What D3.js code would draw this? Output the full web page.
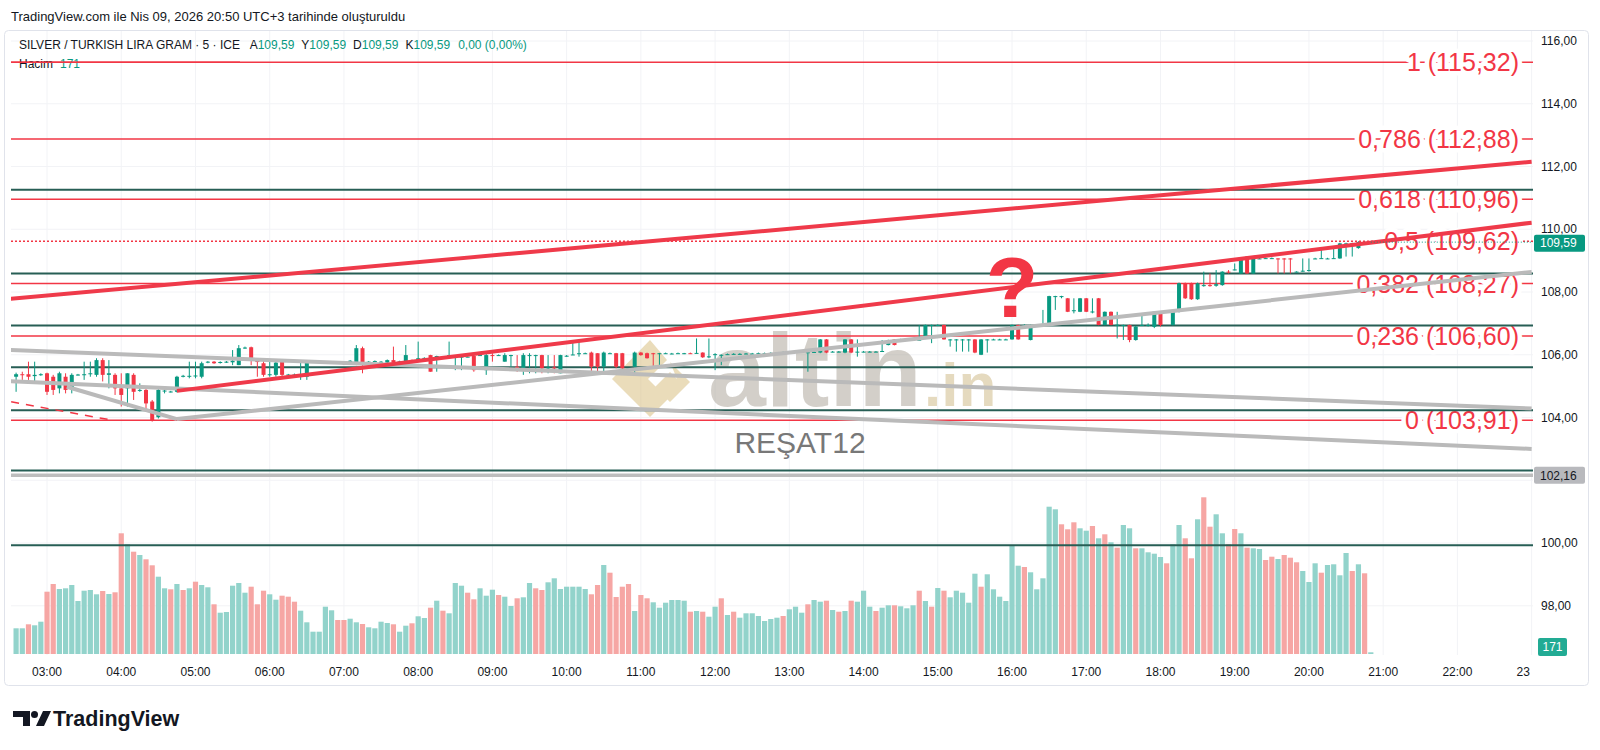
<!DOCTYPE html>
<meta charset="utf-8">
<style>
  body { margin: 0; background: #fff; }
  svg { display: block; font-family: "Liberation Sans", Arial, sans-serif; }
</style>
<body>
<svg width="1600" height="750"></svg>
<script src="https://d3js.org/d3.v7.min.js"></script>
<script>
// 5 minute bars, 02:35 -> 20:50, [open, high, low, close]
const candles = [
  [105.30,105.43,104.82,105.38],[105.38,105.46,105.20,105.36],[105.38,105.78,105.20,105.30],[105.32,105.78,105.09,105.36],[105.38,105.41,105.33,105.38],
  [105.41,105.43,104.72,104.82],[105.30,105.36,104.72,104.88],[104.93,105.46,104.77,105.41],[105.30,105.41,104.77,104.88],[104.93,105.41,104.77,105.36],
  [105.36,105.39,105.34,105.37],[105.37,105.78,105.20,105.38],[105.38,105.78,105.30,105.41],[105.36,105.89,105.30,105.83],[105.83,105.89,105.15,105.36],
  [105.36,105.83,104.93,105.41],[105.36,105.41,104.72,104.93],[104.93,105.41,104.35,104.72],[104.93,105.41,104.35,105.41],[105.36,105.41,104.56,104.82],
  [104.85,105.09,104.82,104.88],[104.88,104.93,104.19,104.45],[104.51,104.56,103.87,103.92],[104.01,104.93,103.97,104.88],[104.84,104.93,104.77,104.86],
  [104.82,104.85,104.80,104.83],[104.82,105.33,104.80,105.30],[105.30,105.36,105.28,105.33],[105.33,105.78,105.25,105.33],[105.33,105.78,105.25,105.34],
  [105.30,105.78,105.25,105.73],[105.75,105.80,105.73,105.78],[105.78,105.80,105.71,105.73],[105.74,105.79,105.72,105.77],[105.76,105.80,105.74,105.78],
  [105.76,106.15,105.67,105.81],[105.67,106.31,105.67,106.21],[106.21,106.26,106.19,106.23],[106.24,106.26,105.67,105.83],[105.80,105.80,105.30,105.78],
  [105.73,105.83,105.30,105.36],[105.36,105.78,105.30,105.38],[105.36,105.78,105.30,105.75],[105.78,105.78,105.30,105.36],[105.36,105.39,105.34,105.37],
  [105.37,105.40,105.35,105.37],[105.30,105.78,105.20,105.36],[105.30,105.83,105.20,105.78],[105.78,105.80,105.76,105.78],[105.78,105.80,105.76,105.79],
  [105.78,105.80,105.76,105.78],[105.78,105.80,105.76,105.77],[105.74,105.76,105.71,105.73],[105.76,105.78,105.68,105.70],[105.76,105.83,105.75,105.81],
  [105.73,106.31,105.67,106.21],[106.21,106.26,105.41,105.67],[105.78,105.80,105.76,105.78],[105.80,105.82,105.78,105.80],[105.78,105.80,105.76,105.78],
  [105.75,105.85,105.73,105.83],[105.83,106.26,105.73,105.76],[105.78,105.81,105.76,105.79],[105.75,106.31,105.73,105.99],[105.83,105.85,105.73,105.75],
  [105.83,106.42,105.83,105.89],[105.89,105.92,105.87,105.90],[105.99,106.00,105.46,105.46],[105.85,105.97,105.46,105.96],[105.95,105.96,105.92,105.94],
  [105.99,106.42,105.98,105.99],[105.94,105.95,105.51,105.94],[105.94,105.95,105.51,105.94],[105.94,105.95,105.92,105.94],[105.96,106.05,105.46,105.51],
  [105.98,106.01,105.97,105.99],[105.51,106.05,105.36,105.99],[105.99,106.05,105.78,105.98],[105.99,106.01,105.97,105.99],[105.78,106.05,105.78,105.99],
  [105.99,106.00,105.62,105.99],[105.62,105.99,105.46,105.51],[105.51,106.05,105.36,105.99],[105.99,106.05,105.41,105.99],[105.99,106.00,105.41,105.99],
  [105.99,106.00,105.41,105.57],[105.57,105.99,105.41,105.60],[105.60,105.99,105.41,105.58],[105.41,106.00,105.41,105.99],[105.96,105.99,105.94,105.97],
  [106.01,106.47,105.99,106.01],[106.05,106.47,105.94,106.05],[106.05,106.07,106.03,106.05],[106.07,106.10,105.36,105.62],[106.05,106.05,105.41,105.62],
  [105.62,106.10,105.41,106.07],[106.05,106.07,106.03,106.05],[106.05,106.06,105.57,105.62],[106.05,106.06,105.55,105.57],[105.57,105.58,105.36,105.57],
  [105.62,106.10,105.36,106.07],[106.07,106.09,105.97,105.99],[106.05,106.07,105.88,105.89],[106.05,106.06,105.62,106.04],[106.05,106.06,105.67,106.05],
  [106.05,106.07,106.03,106.05],[106.04,106.06,106.02,106.04],[106.05,106.07,106.03,106.05],[106.04,106.06,106.02,106.05],[106.05,106.07,106.03,106.04],
  [106.05,106.52,106.04,106.06],[106.07,106.08,105.90,105.92],[105.92,106.52,105.89,105.95],[105.99,106.05,105.51,106.02],[106.00,106.01,105.67,106.00],
  [106.02,106.04,106.00,106.02],[106.03,106.05,106.01,106.03],[106.03,106.05,106.01,106.03],[106.04,106.06,106.02,106.04],[106.04,106.06,106.02,106.04],
  [106.05,106.07,106.03,106.05],[106.05,106.07,106.03,106.05],[106.06,106.08,106.04,106.06],[106.06,106.08,106.04,106.06],[106.08,106.10,106.06,106.08],
  [106.08,106.10,106.06,106.08],[106.09,106.11,106.07,106.09],[106.10,106.12,106.08,106.10],[106.08,106.10,105.46,106.08],[106.09,106.11,106.07,106.09],
  [106.07,106.50,106.05,106.49],[106.49,106.50,106.05,106.07],[106.10,106.12,106.08,106.10],[106.10,106.12,106.08,106.10],[106.07,106.50,106.05,106.49],
  [106.49,106.50,106.05,106.07],[106.10,106.49,105.94,106.10],[106.10,106.12,106.08,106.10],[106.10,106.12,106.08,106.10],[106.10,106.12,106.08,106.10],
  [106.10,106.47,106.09,106.12],[106.31,106.48,106.30,106.47],[106.49,106.50,106.30,106.31],[106.49,106.51,106.47,106.49],[106.49,106.51,106.47,106.49],
  [106.49,106.51,106.47,106.49],[106.47,106.95,106.46,106.48],[106.52,106.96,106.50,106.95],[106.95,106.96,106.37,106.95],[106.95,106.97,106.93,106.95],
  [106.95,106.96,106.48,106.49],[106.49,106.50,106.26,106.49],[106.49,106.50,106.10,106.49],[106.49,106.50,106.10,106.49],[106.49,106.50,106.10,106.49],
  [106.49,106.50,106.05,106.07],[106.00,106.50,105.99,106.49],[106.49,106.50,106.07,106.49],[106.49,106.51,106.47,106.49],[106.49,106.51,106.47,106.49],
  [106.49,106.51,106.47,106.49],[106.49,106.96,106.48,106.95],[106.95,106.96,106.48,106.49],[106.95,106.97,106.93,106.95],[106.47,106.96,106.46,106.95],
  [106.95,106.97,106.93,106.95],[106.95,107.43,106.94,106.96],[106.95,107.88,106.94,107.87],[107.87,107.88,107.43,107.87],[107.87,107.88,107.80,107.87],
  [107.80,107.81,107.36,107.37],[107.40,107.80,107.32,107.42],[107.37,107.81,107.36,107.80],[107.80,107.81,107.36,107.37],[107.38,107.80,107.32,107.38],
  [107.80,107.81,106.94,106.95],[106.95,107.38,106.94,107.37],[107.37,107.38,106.94,106.95],[106.95,107.37,106.52,106.96],[106.95,106.96,106.47,106.95],
  [106.95,106.96,106.40,106.47],[106.47,106.92,106.45,106.90],[106.95,107.32,106.94,106.95],[106.95,107.00,106.90,106.95],[106.89,107.38,106.85,107.37],
  [107.37,107.38,106.90,106.95],[107.37,107.39,107.35,107.37],[106.95,107.38,106.93,107.37],[107.37,108.30,107.35,108.28],[108.28,108.30,107.78,107.80],
  [108.28,108.30,107.75,107.77],[107.77,108.30,107.75,108.28],[108.20,108.65,108.17,108.22],[108.22,108.59,108.17,108.21],[108.20,108.70,108.17,108.25],
  [108.22,108.66,108.20,108.65],[108.65,108.70,108.59,108.64],[108.70,108.91,108.69,108.72],[108.59,109.08,108.58,109.07],[109.13,109.14,108.58,108.59],
  [108.59,109.14,108.58,109.13],[109.07,109.09,109.05,109.07],[109.08,109.10,109.06,109.08],[109.08,109.10,109.06,109.08],[109.07,109.08,108.59,109.06],
  [109.07,109.08,108.59,109.06],[109.07,109.08,108.59,109.06],[108.65,108.66,108.63,108.65],[108.66,109.07,108.65,108.68],[108.70,109.07,108.65,108.70],
  [109.07,109.09,109.05,109.07],[109.07,109.39,109.06,109.08],[109.07,109.09,109.05,109.07],[109.08,109.39,109.06,109.08],[109.07,109.57,109.06,109.55],
  [109.55,109.57,109.13,109.55],[109.56,109.57,109.13,109.56],[109.40,109.62,109.38,109.59],[109.59,109.61,109.57,109.59],[109.59,109.59,109.59,109.59]
];

const volumes = [
  2570,2570,2970,2870,3230,6230,7000,6500,6570,6900, 5300,6330,6400,5970,6300,6000,6170,12070,10970,10230,
  9900,9470,8870,7730,6570,6470,7000,6400,6570,7230, 6900,6670,4970,4130,4200,6830,7100,6130,6730,4970,
  6330,5970,5430,5830,5730,5230,4330,3170,2230,2230, 4730,4370,3400,3400,3530,3170,3000,2670,2570,3230,
  3100,2970,2230,2830,3070,3770,3600,4630,5330,4330, 4070,7100,6830,6130,5470,6570,5830,6430,5900,5730,
  4800,5570,5670,7100,6570,6400,7170,7570,6500,6730, 6730,6730,6500,5970,6900,8900,8130,5700,6730,7000,
  4300,5900,5570,5170,4630,5130,5400,5400,5330,4230, 4300,
  4230,3730,4730,5570,3900,4230,3630,4070,4070,3800, 3300,3500,3630,3800,4470,4730,4130,4970,5400,5230,
  5330,4400,4230,4300,5330,5230,6330,4730,4300,4630, 4870,4870,4770,4570,4870,6330,5300,4730,6600,6330,
  5670,6330,6130,5130,8030,6730,7970,6470,5730,5300, 10900,8830,8700,8170,6470,7570,14730,14470,12970,12470,
  13170,12570,12330,12800,11570,11970,11170,10630,12900,12570, 10570,10570,10170,10030,9700,9070,10970,12900,11570,9570,
  13470,15670,12730,13970,12070,10970,12500,12070,10630,10570, 10500,9400,9730,9500,9900,9630,9170,8300,7200,9070,
  8130,8900,8970,7870,10100,8300,8970,8070,171
];
// t = up (teal), r = down (red)
const volumeDirs =
  "ttrttrrttt" + "ttttrtrrtr" + "trrttrtrtr" + "ttrtttttrr" + "rttrrrtttt" + "ttrrttrttt" +
  "trttrttrtr" + "tttrrtttrt" + "trttrrtttt" + "tttrrtrrrr" + "trrttttttr" + "t" +
  "rttrtrtttt" + "tttrtttrtt" + "rtrtrtttrt" + "trtttrtrtr" + "tttttrtttt" + "ttrtttttrr" +
  "rttrtrtrtt" + "rttttrttrr" + "trrttrrtrt" + "trrtrrrttt" + "rttttrtrt";

const fibRatios = ["1", "0,786", "0,618", "0,5", "0,382", "0,236", "0"];
const fibPrices = [115.32, 112.88, 110.96, 109.62, 108.27, 106.60, 103.91];
const levelLines = [111.26, 108.59, 106.93, 105.60, 104.23, 102.31, 99.93];
const grayLevel = 102.16;
const lastPrice = 109.59;
const lastVolume = 171;
const priceTicks = [116, 114, 112, 110, 108, 106, 104, 100, 98];
const hourLabels = ["03:00","04:00","05:00","06:00","07:00","08:00","09:00","10:00","11:00","12:00",
  "13:00","14:00","15:00","16:00","17:00","18:00","19:00","20:00","21:00","22:00","23:00"];

// drawings: [[time, price], [time, price]]
const redTrends = [
  [["02:30", 107.78], ["23:00", 112.15]],
  [["04:45", 104.85], ["23:00", 110.21]]
];
const grayTrends = [
  [["02:30", 106.15], ["23:00", 104.29]],
  [["04:45", 103.95], ["23:00", 108.64]],
  [["02:30", 105.16], ["23:00", 103.00]],
  [["03:16", 104.98], ["04:45", 103.95]]
];
const dashedTrend = [["02:31", 104.50], ["03:52", 103.92]];

const svg = d3.select("svg");
const fmt = d3.format(".2f");
const comma = v => fmt(v).replace(".", ",");
const parseT = d3.timeParse("%Y-%m-%d %H:%M");
const T = s => parseT("2026-04-09 " + s);
const barTime = i => d3.timeMinute.offset(T("02:35"), i * 5);

const pL = 11, pR = 1533, pT = 31, pB = 655;
const x = d3.scaleTime().domain([T("02:35"), T("20:50")]).range([16.1, 1370.8]);
const y = d3.scaleLinear().domain([98, 116]).range([605.8, 41.0]);
const yv = d3.scaleLinear().domain([0, 10000]).range([654, 554]);

const UP = "#089981", DOWN = "#f23645";

const defs = svg.append("defs");
defs.append("clipPath").attr("id", "plot")
  .append("rect").attr("x", pL).attr("y", pT).attr("width", pR - pL).attr("height", pB - pT);
defs.append("clipPath").attr("id", "timeaxis")
  .append("rect").attr("x", 0).attr("y", 655).attr("width", 1530).attr("height", 40);

// frame
svg.append("rect").attr("x", 4.5).attr("y", 30.5).attr("width", 1584).attr("height", 655)
  .attr("rx", 4).attr("fill", "none").attr("stroke", "#e0e3eb");

const plot = svg.append("g").attr("clip-path", "url(#plot)");

// grid
plot.append("g").selectAll("line").data(hourLabels).join("line")
  .attr("x1", d => x(T(d))).attr("x2", d => x(T(d)))
  .attr("y1", pT).attr("y2", pB).attr("stroke", "#f2f3f6");
plot.append("g").selectAll("line").data(priceTicks.concat([102])).join("line")
  .attr("x1", pL).attr("x2", pR)
  .attr("y1", d => y(d)).attr("y2", d => y(d)).attr("stroke", "#f2f3f6");

// watermark
const wm = plot.append("g").attr("opacity", 0.5);
wm.append("path")
  .attr("d", "M650,340 L612,379 L650,417 L668,399 L648,379 L667,360 Z")
  .attr("fill", "#d7bb78");
wm.append("path")
  .attr("d", "M670,362 L690,382 L670,402 L655,387 L670,372 L677,379 Z")
  .attr("fill", "#d7bb78");
wm.append("text").attr("x", 708).attr("y", 406).attr("font-size", 104).attr("font-weight", "bold")
  .attr("fill", "#a8a195").text("altin");
wm.append("text").attr("x", 924).attr("y", 406).attr("font-size", 62).attr("font-weight", "bold")
  .attr("fill", "#cdb680").text(".in");

// volume
plot.append("g").selectAll("rect").data(volumes).join("rect")
  .attr("x", (d, i) => x(barTime(i)) - 2.6)
  .attr("width", 5.2)
  .attr("y", d => yv(d))
  .attr("height", d => yv(0) - yv(d))
  .attr("fill", (d, i) => volumeDirs[i] === "t" ? "#92d3cb" : "#f6a6a4");

// fib lines
const fib = plot.append("g");
fib.selectAll("line").data(fibPrices).join("line")
  .attr("x1", pL).attr("x2", pR)
  .attr("y1", d => y(d)).attr("y2", d => y(d))
  .attr("stroke", DOWN).attr("stroke-width", 1.5)
  .attr("stroke-dasharray", (d, i) => fibRatios[i] === "0,5" ? "2,2" : null);
fib.selectAll("text").data(fibPrices).join("text")
  .attr("x", 1519).attr("y", d => y(d)).attr("dy", "0.36em")
  .attr("text-anchor", "end").attr("font-size", 25)
  .attr("fill", DOWN).attr("stroke", "#fff").attr("stroke-width", 9)
  .attr("paint-order", "stroke").attr("stroke-linejoin", "round")
  .text((d, i) => `${fibRatios[i]} (${comma(d)})`);

// horizontal levels
plot.append("g").selectAll("line").data(levelLines).join("line")
  .attr("x1", pL).attr("x2", pR)
  .attr("y1", d => y(d)).attr("y2", d => y(d))
  .attr("stroke", "#275e55").attr("stroke-width", 2);
plot.append("line").attr("x1", pL).attr("x2", pR)
  .attr("y1", y(grayLevel)).attr("y2", y(grayLevel))
  .attr("stroke", "#bdbdbd").attr("stroke-width", 3.5);

// text drawing
plot.append("text").attr("x", 800).attr("y", 453).attr("text-anchor", "middle")
  .attr("font-size", 30).attr("fill", "#787878").text("REŞAT12");

// candles
const cg = plot.append("g").selectAll("g").data(candles).join("g")
  .attr("transform", (d, i) => `translate(${x(barTime(i))},0)`);
cg.append("line")
  .attr("y1", d => y(d[1])).attr("y2", d => y(d[2]))
  .attr("stroke", d => d[3] >= d[0] ? UP : DOWN).attr("stroke-width", 1);
cg.append("rect")
  .attr("x", -2).attr("width", 4)
  .attr("y", d => y(Math.max(d[0], d[3])))
  .attr("height", d => Math.max(1, Math.abs(y(d[0]) - y(d[3]))))
  .attr("fill", d => d[3] >= d[0] ? UP : DOWN);

// trend lines
const seg = (g, data, color, w, dash) => g.append("g").selectAll("line").data(data).join("line")
  .attr("x1", d => x(T(d[0][0]))).attr("y1", d => y(d[0][1]))
  .attr("x2", d => x(T(d[1][0]))).attr("y2", d => y(d[1][1]))
  .attr("stroke", color).attr("stroke-width", w).attr("stroke-dasharray", dash);
seg(plot, grayTrends, "#bababa", 4, null);
seg(plot, redTrends, "#ef3a4a", 4, null);
seg(plot, [dashedTrend], DOWN, 1.5, "8,7");

// last price line
plot.append("line").attr("x1", x(T("20:50"))).attr("x2", pR)
  .attr("y1", y(lastPrice)).attr("y2", y(lastPrice))
  .attr("stroke", UP).attr("stroke-dasharray", "1,2");

// question mark
plot.append("text").attr("x", x(T("16:00"))).attr("y", y(107.21))
  .attr("text-anchor", "middle").attr("font-size", 86).attr("font-weight", "bold")
  .attr("fill", DOWN).text("?");

// price axis
svg.append("g").selectAll("text").data(priceTicks).join("text")
  .attr("x", 1541).attr("y", d => y(d)).attr("dy", "0.35em")
  .attr("font-size", 12).attr("fill", "#131722").text(d => comma(d));

const tag = (v, fill, color, text) => {
  const g = svg.append("g").attr("transform", `translate(1534,${v})`);
  g.append("rect").attr("x", 0).attr("y", -8.5).attr("width", 51).attr("height", 17).attr("rx", 2).attr("fill", fill);
  g.append("text").attr("x", 6).attr("dy", "0.36em").attr("font-size", 12).attr("fill", color).text(text);
};
tag(y(lastPrice) + 1, UP, "#fff", comma(lastPrice));
tag(y(grayLevel), "#b8b9bd", "#131722", comma(grayLevel));
const vt = svg.append("g").attr("transform", "translate(1538,647)");
vt.append("rect").attr("y", -9).attr("width", 29).attr("height", 18).attr("rx", 2).attr("fill", "#22ab94");
vt.append("text").attr("x", 14.5).attr("dy", "0.36em").attr("text-anchor", "middle")
  .attr("font-size", 12).attr("fill", "#fff").text(lastVolume);

// time axis
svg.append("g").attr("clip-path", "url(#timeaxis)").selectAll("text").data(hourLabels).join("text")
  .attr("x", d => x(T(d))).attr("y", 676).attr("text-anchor", "middle")
  .attr("font-size", 12).attr("fill", "#131722").text(d => d);

// header and legend
svg.append("text").attr("x", 11).attr("y", 21).attr("font-size", 13).attr("fill", "#131722")
  .text("TradingView.com ile Nis 09, 2026 20:50 UTC+3 tarihinde oluşturuldu");
const lg = svg.append("text").attr("x", 19).attr("y", 49).attr("font-size", 12).attr("fill", "#131722");
lg.append("tspan").text("SILVER / TURKISH LIRA GRAM · 5 · ICE ");
["A", "Y", "D", "K"].forEach(k => {
  lg.append("tspan").attr("dx", 7).text(k);
  lg.append("tspan").attr("fill", UP).text(comma(lastPrice));
});
lg.append("tspan").attr("dx", 8).attr("fill", UP).text("0,00 (0,00%)");
const hv = svg.append("text").attr("x", 19).attr("y", 68).attr("font-size", 12).attr("fill", "#131722");
hv.append("tspan").text("Hacim");
hv.append("tspan").attr("dx", 7).attr("fill", UP).text(lastVolume);
// the fib "1" line crosses the legend
svg.append("line").attr("x1", pL).attr("x2", 240).attr("y1", y(115.32)).attr("y2", y(115.32))
  .attr("stroke", DOWN).attr("stroke-width", 1.5);

// logo
const logo = svg.append("g").attr("fill", "#131722");
logo.append("path").attr("d", "M13,711 H30 V726 H23 V717 H13 Z");
logo.append("circle").attr("cx", 34.5).attr("cy", 714.5).attr("r", 3.5);
logo.append("path").attr("d", "M43,711 H51 L44,726 H36 Z");
logo.append("text").attr("x", 53).attr("y", 726).attr("font-size", 21.5).attr("font-weight", "bold")
  .text("TradingView");
</script>
</body>
